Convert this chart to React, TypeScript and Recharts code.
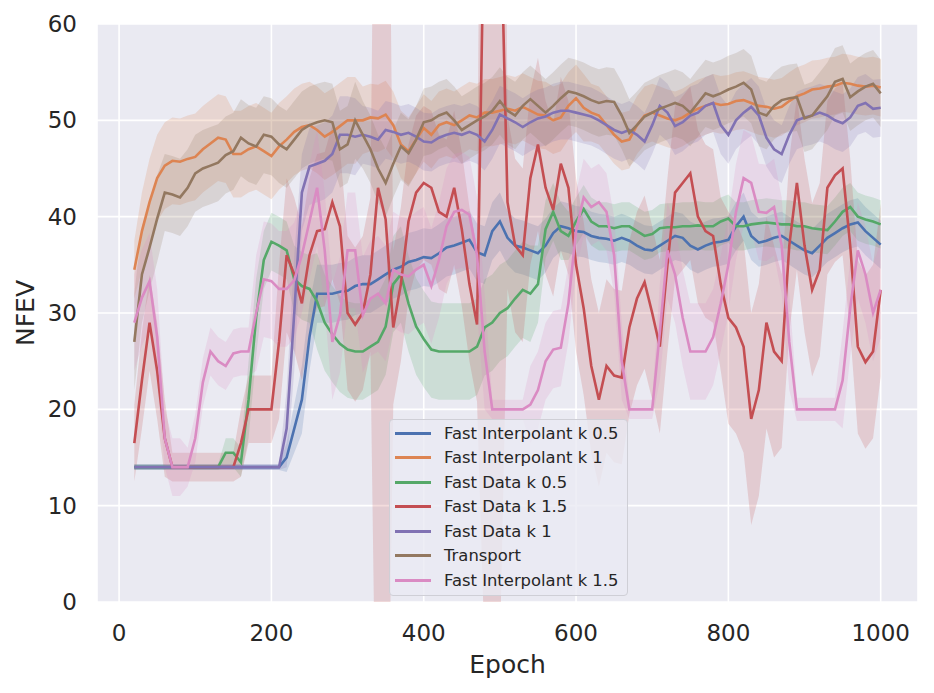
import { Area, CartesianGrid, ComposedChart, Line, XAxis, YAxis } from 'recharts'

// epoch grid, read every 10 epochs
const epochs = [
  20, 30, 40, 50, 60, 70, 80, 90, 100, 110,
  120, 130, 140, 150, 160, 170, 180, 190, 200, 210,
  220, 230, 240, 250, 260, 270, 280, 290, 300, 310,
  320, 330, 340, 350, 360, 370, 380, 390, 400, 410,
  420, 430, 440, 450, 460, 470, 480, 490, 500, 510,
  520, 530, 540, 550, 560, 570, 580, 590, 600, 610,
  620, 630, 640, 650, 660, 670, 680, 690, 700, 710,
  720, 730, 740, 750, 760, 770, 780, 790, 800, 810,
  820, 830, 840, 850, 860, 870, 880, 890, 900, 910,
  920, 930, 940, 950, 960, 970, 980, 990, 1000,
]

const fastInterpK05 = [
  14, 14, 14, 14, 14, 14, 14, 14, 14, 14,
  14, 14, 14, 14, 14, 14, 14, 14, 14, 14,
  15, 18, 21, 27.5, 32, 32, 32, 32.2, 32.3, 32.8,
  33, 33, 33.5, 34, 34.5, 34.8, 35.3, 35.5, 35.8, 35.7,
  36.2, 36.8, 37, 37.3, 37.6, 36.3, 36, 38.5, 39.5, 37.8,
  37, 36.8, 36.5, 36.2, 37, 38.3, 39, 38.8, 38.5, 38.4,
  38, 37.8, 37.7, 37.5, 37.8, 37.5, 37, 36.6, 36.5, 37,
  37.5, 38, 37.8, 37, 36.6, 37, 37.3, 37.4, 37.6, 39,
  40, 38, 37.3, 37.5, 37.8, 38, 37.5, 37, 36.5, 36.2,
  37, 37.8, 38.3, 38.8, 39.2, 39.4, 38.5, 37.8, 37.1,
]
const fastInterpK05Spread = [
  0.3, 0.3, 0.3, 0.3, 0.3, 0.3, 0.3, 0.3, 0.3, 0.3,
  0.3, 0.3, 0.3, 0.3, 0.3, 0.3, 0.3, 0.3, 0.3, 0.3,
  1.5, 2.5, 3.5, 3.5, 3, 3, 3, 3, 3, 3,
  3, 3, 3, 3, 3, 3, 3, 3, 3, 3,
  3, 3, 3, 3, 3, 3, 3, 3, 3, 2.8,
  2.8, 2.8, 2.8, 2.8, 2.8, 2.6, 2.6, 2.6, 2.6, 2.6,
  2.5, 2.5, 2.5, 2.5, 2.5, 2.5, 2.5, 2.5, 2.5, 2.5,
  2.5, 2.5, 2.5, 2.5, 2.5, 2.5, 2.5, 2.5, 2.5, 2.5,
  2.5, 2.5, 2.5, 2.5, 2.5, 2.5, 2.5, 2.5, 2.5, 2.5,
  2.5, 2.5, 2.5, 2.5, 2.5, 2.5, 2.5, 2.5, 2.5,
]

const fastInterpK1 = [
  34.5, 38.5, 41.5, 44, 45.3, 45.8, 45.7, 46, 46.2, 47,
  47.6, 48.2, 48, 46.5, 46.5, 47, 47.3, 46.8, 46.3, 47.3,
  48, 48.8, 49.3, 49.5, 49, 48.3, 48.8, 49.4, 50, 50,
  50, 50.3, 50.2, 50.6, 49.5, 47.5, 46.8, 48, 49.2, 48.5,
  49.5, 49.8, 49.5, 50, 50.5, 50.3, 50.8, 50.8, 51, 51.2,
  51, 51.4, 51, 50.6, 50.5, 50, 50.3, 51.5, 52.3, 51.3,
  50.8, 50.5, 49.5, 48.5, 47.8, 48, 49.5, 50.5, 50.8, 50.5,
  50.2, 50, 50.3, 50.8, 51.2, 51.5, 51.8, 51.6, 51.7, 52,
  52.1, 51.8, 51.5, 51.4, 51.2, 51.4, 52, 52.5, 52.8, 53.2,
  53.3, 53.5, 53.6, 53.9, 53.8, 53.6, 53.5, 53.6, 53.4,
]
const fastInterpK1Spread = [
  3, 4, 4.5, 4.5, 4.5, 4.5, 4.5, 4.5, 4.5, 4.5,
  4.5, 4.5, 4.5, 4.5, 4.5, 4.5, 4.5, 4.5, 4.5, 4.5,
  4.5, 4.5, 4.5, 4.5, 4.5, 4.5, 4.5, 4.5, 4.5, 4.5,
  3.5, 3.5, 3.5, 3.5, 3.5, 3.5, 3.5, 3.5, 3.5, 3.5,
  3.5, 3.5, 3.5, 3.5, 3.5, 3.5, 3.5, 3.5, 3.5, 3.5,
  3.5, 3.5, 3.5, 3.5, 3.5, 3.5, 3.5, 3.5, 3.5, 3.5,
  3, 3, 3, 3, 3, 3, 3, 3, 3, 3,
  3, 3, 3, 3, 3, 3, 3, 3, 3, 3,
  3, 3, 3, 3, 3, 3, 3, 3, 3, 3,
  3, 3, 3, 3, 3, 3, 3, 3, 3,
]

const fastDataK05 = [
  14, 14, 14, 14, 14, 14, 14, 14, 14, 14,
  14, 14, 15.5, 15.5, 14.5, 21, 29.6, 35.5, 37.4, 37,
  36.5, 33.5, 32.8, 32.5, 31.2, 29, 27.8, 26.8, 26.2, 26,
  26, 26.5, 27, 28.6, 33, 34, 31, 28.6, 27.3, 26.2,
  26, 26, 26, 26, 26, 26.5, 28.5, 29, 30, 30.5,
  31.5, 32.4, 32, 33, 38.7, 40.5, 38.5, 38, 39.5, 40.8,
  39.5, 39, 39, 38.8, 39, 39, 38.5, 38, 38.2, 38.8,
  38.9, 38.9, 39, 39, 39.1, 39, 39, 39.5, 39.8, 39,
  39, 39.2, 39.3, 39.4, 39.3, 39.2, 39.2, 39, 39, 38.8,
  38.7, 38.6, 39.5, 40.5, 41, 40, 39.7, 39.5, 39.2,
]
const fastDataK05Spread = [
  0.3, 0.3, 0.3, 0.3, 0.3, 0.3, 0.3, 0.3, 0.3, 0.3,
  0.3, 0.3, 1.5, 1.5, 1.5, 4, 4, 3, 3, 3,
  3, 3.5, 3.5, 3.5, 5, 5, 5, 5, 5, 5,
  5, 5, 5, 5, 5, 5, 5, 5, 5, 5,
  5, 5, 5, 5, 5, 5, 5, 5, 5, 5,
  5, 5, 5, 4, 3, 3, 3, 2.5, 2.5, 2.5,
  2.5, 2.5, 2.5, 2.5, 2.5, 2.5, 2.5, 2.5, 2.5, 2.5,
  2.5, 2.5, 2.5, 2.5, 2.5, 2.5, 2.5, 2.5, 2.5, 2.5,
  2.5, 2.5, 2.5, 2.5, 2.5, 2.5, 2.5, 2.5, 2.5, 2.5,
  2.5, 2.5, 2.5, 2.5, 2.5, 2.5, 2.5, 2.5, 2.5,
]

const fastDataK15 = [
  16.5, 23, 29, 24, 17, 14, 14, 14, 14, 14,
  14, 14, 14, 14, 16.5, 20, 20, 20, 20, 27,
  36, 34, 31, 36, 38.5, 38.7, 41.5, 39, 30, 28.8,
  30, 34, 43, 39.7, 28.5, 33, 39.5, 42.5, 43.5, 43,
  40.5, 40, 43, 38.7, 33, 28.8, 75, 75, 75, 41.5,
  37, 36, 44, 47.5, 43, 40.7, 45.5, 43, 35, 30.5,
  24.5, 21, 24.5, 23.5, 23.3, 28.5, 31.5, 33.2, 30, 26.5,
  35, 42.5, 43.5, 44.5, 40, 38.5, 38, 33, 29.5, 28.5,
  26.5, 19, 22, 29, 26, 25, 37, 43.5, 37, 32.4,
  34.5, 43, 44.3, 45, 37, 26.5, 24.9, 26, 32.4,
]
const fastDataK15Spread = [
  4, 5, 5, 5, 4, 1.5, 1.5, 1.5, 1.5, 1.5,
  1.5, 1.5, 1.5, 1.5, 3.5, 3.5, 3.5, 3.5, 3.5, 8,
  8, 8, 8, 8, 8, 8, 8, 8, 8, 8,
  8, 8, 75, 75, 8, 8, 8, 8, 8, 8,
  8, 8, 8, 8, 8, 8, 80, 80, 80, 9,
  9, 9, 9, 9, 9, 9, 9, 9, 9, 9,
  9, 9, 9, 9, 9, 9, 9, 9, 9, 9,
  9, 9, 9, 9, 9, 9, 9, 9, 11, 11,
  11, 11, 11, 11, 11, 9, 9, 9, 9, 9,
  9, 9, 9, 9, 9, 9, 9, 9, 9,
]

const fastDataK1 = [
  14, 14, 14, 14, 14, 14, 14, 14, 14, 14,
  14, 14, 14, 14, 14, 14, 14, 14, 14, 14,
  18, 30, 42.5, 45.2, 45.5, 45.8, 46.5, 48.5, 48.5, 48.3,
  48.5, 48.3, 48, 49, 48.8, 48.5, 48.7, 48.3, 47.8, 47.7,
  48.2, 48.5, 48.7, 48.5, 48.8, 48.5, 47.8, 49, 50.6, 50.2,
  49.8, 49.3, 49.8, 50.2, 50.4, 50.8, 51, 51, 50.8, 50.6,
  50.4, 50, 49.5, 49, 48.7, 49, 48.5, 47.8, 49.5, 51.5,
  50.8, 49.4, 49.8, 50.5, 50.8, 51.5, 51.8, 49.5, 48.5, 50,
  50.8, 51.4, 50.5, 48.2, 47, 46.5, 48.5, 50, 50.3, 50.5,
  50.8, 50.5, 50, 49.7, 50.3, 51.5, 51.8, 51.2, 51.3,
]
const fastDataK1Spread = [
  0.3, 0.3, 0.3, 0.3, 0.3, 0.3, 0.3, 0.3, 0.3, 0.3,
  0.3, 0.3, 0.3, 0.3, 0.3, 0.3, 0.3, 0.3, 0.3, 0.3,
  4, 6, 4, 4, 4, 4, 4, 4, 4, 4,
  3, 3, 3, 3, 3, 3, 3, 3, 3, 3,
  3, 3, 3, 3, 3, 3, 3, 3, 3, 3,
  3, 3, 3, 3, 3, 3, 3, 3, 3, 3,
  3, 3, 3, 3, 3, 3, 3, 3, 3, 3,
  3, 3, 3, 3, 3, 3, 3, 3, 3, 3,
  3, 3, 3, 3, 3, 3, 3, 3, 3, 3,
  3, 3, 3, 3, 3, 3, 3, 3, 3,
]

const transport = [
  27, 34, 36.8, 39.8, 42.5, 42.3, 42, 43, 44.5, 45,
  45.3, 45.6, 46.4, 46.8, 48.2, 47.6, 47.3, 48.5, 48.3, 47.5,
  47, 48, 49, 49.5, 49.8, 50, 49.8, 47, 47.5, 50,
  48.5, 47, 45, 43.5, 45.5, 47.3, 46.6, 48, 49.8, 50,
  50.5, 50.8, 50, 49, 49.5, 50, 50.4, 51, 52, 51,
  50.5, 51.5, 52.2, 51.5, 50.8, 51.5, 52.3, 53, 52.8, 52.5,
  52.1, 51.8, 52, 51.9, 50.5, 48.7, 49.5, 50.4, 50.8, 51.2,
  51.5, 51.8, 51.5, 50.8, 51.8, 52.8, 52.5, 52.8, 53.2, 53.5,
  53.9, 53.2, 50.8, 50.5, 51.5, 52.1, 52.3, 52.4, 50.2, 50.5,
  51.5, 52.5, 54, 54.3, 52.4, 53, 53.5, 53.8, 52.8,
]
const transportSpread = [
  5, 5, 4.5, 4.5, 4, 4, 4, 4, 4, 4,
  4, 4, 4, 4, 4, 4, 4, 4, 4, 4,
  4, 4, 4, 4, 4, 4, 4, 4, 4, 4,
  3.5, 3.5, 3.5, 3.5, 3.5, 3.5, 3.5, 3.5, 3.5, 3.5,
  3.5, 3.5, 3.5, 3.5, 3.5, 3.5, 3.5, 3.5, 3.5, 3.5,
  3.5, 3.5, 3.5, 3.5, 3.5, 3.5, 3.5, 3.5, 3.5, 3.5,
  3.5, 3.5, 3.5, 3.5, 3.5, 3.5, 3.5, 3.5, 3.5, 3.5,
  3.5, 3.5, 3.5, 3.5, 3.5, 3.5, 3.5, 3.5, 3.5, 3.5,
  3.5, 3.5, 3.5, 3.5, 3.5, 3.5, 3.5, 3.5, 3.5, 3.5,
  3.5, 3.5, 3.5, 3.5, 3.5, 3.5, 3.5, 3.5, 3.5,
]

const fastInterpK15 = [
  29, 31.6, 33.3, 27.5, 17, 14, 14, 14, 17, 22.8,
  26, 25, 24.5, 25.8, 26, 26, 30, 33.5, 33.3, 32.5,
  32.5, 33.4, 36, 39.5, 43, 36.5, 27, 29.8, 36.5, 36.5,
  29.8, 31.5, 32, 31, 34.5, 34, 33.8, 34.5, 35, 32.8,
  35.5, 39, 40.5, 40.7, 40.2, 36, 26, 20, 20, 20,
  20, 20, 20.5, 22, 25, 26.2, 26.4, 31, 38.5, 42,
  41, 41.5, 40.5, 36, 25, 20, 20, 20, 20, 28,
  36.5, 34, 29.5, 26, 26, 26, 27.5, 31, 35, 40.5,
  44, 43.5, 40.5, 40.4, 41, 37, 27, 20, 20, 20,
  20, 20, 20, 23, 30.5, 36.5, 34, 30, 32.4,
]
const fastInterpK15Spread = [
  5, 5, 5, 5, 3, 3, 3, 2, 2.5, 2.5,
  2.5, 2.5, 2.5, 2.5, 2.5, 2.5, 6, 6, 6, 6,
  6, 6, 6, 6, 6, 6, 6, 6, 6, 6,
  6, 6, 6, 6, 6, 6, 6, 6, 6, 6,
  6, 6, 6, 6, 6, 6, 6, 1, 1, 1,
  1, 1, 4, 4, 4, 4, 4, 4, 4, 4,
  4, 4, 4, 4, 4, 1, 1, 1, 1, 5,
  5, 5, 5, 5, 5, 5, 5, 5, 5, 5,
  5, 5, 5, 5, 5, 5, 5, 1.2, 1.2, 1.2,
  1.2, 1.2, 1.2, 5, 5, 5, 5, 5, 5,
]

const xTicks = [0, 200, 400, 600, 800, 1000]
const yTicks = [0, 10, 20, 30, 40, 50, 60]

const series = [
  { key: 'fik05', label: 'Fast Interpolant k 0.5', color: '#4C72B0', values: fastInterpK05, spread: fastInterpK05Spread },
  { key: 'fik1', label: 'Fast Interpolant k 1', color: '#DD8452', values: fastInterpK1, spread: fastInterpK1Spread },
  { key: 'fdk05', label: 'Fast Data k 0.5', color: '#55A868', values: fastDataK05, spread: fastDataK05Spread },
  { key: 'fdk15', label: 'Fast Data k 1.5', color: '#C44E52', values: fastDataK15, spread: fastDataK15Spread },
  { key: 'fdk1', label: 'Fast Data k 1', color: '#8172B3', values: fastDataK1, spread: fastDataK1Spread },
  { key: 'transport', label: 'Transport', color: '#937860', values: transport, spread: transportSpread },
  { key: 'fik15', label: 'Fast Interpolant k 1.5', color: '#DA8BC3', values: fastInterpK15, spread: fastInterpK15Spread },
]

const data = epochs.map((epoch, i) => {
  const row: Record<string, number | number[]> = { epoch }
  series.forEach((s) => {
    row[s.key] = s.values[i]
    row[s.key + 'Band'] = [s.values[i] - s.spread[i], s.values[i] + s.spread[i]]
  })
  return row
})

const font = 'DejaVu Sans'
const textColor = '#262626'

export default function App() {
  return (
    <div style={{ position: 'absolute', left: 0, top: 0, width: 934, height: 693, background: '#fff', fontFamily: font }}>
      <ComposedChart width={934} height={693} data={data} margin={{ top: 24, right: 16, bottom: 0, left: 0 }}>
        <CartesianGrid fill="#EAEAF2" stroke="#ffffff" strokeWidth={1.6} />
        <XAxis
          type="number"
          dataKey="epoch"
          domain={[-29, 1049]}
          ticks={xTicks}
          allowDataOverflow
          axisLine={false}
          tickLine={false}
          tickSize={0}
          tickMargin={23}
          height={91}
          tick={{ fill: textColor, fontSize: 23, fontFamily: font }}
          label={{
            value: 'Epoch',
            content: (props: any) => {
              const vb = props.viewBox
              return (
                <text x={vb.x + vb.width / 2} y={vb.y + vb.height - 20} textAnchor="middle" fill={textColor} fontSize={25} fontFamily={font}>
                  Epoch
                </text>
              )
            },
          }}
        />
        <YAxis
          type="number"
          domain={[0, 60]}
          ticks={yTicks}
          allowDataOverflow
          axisLine={false}
          tickLine={false}
          tickSize={0}
          tickMargin={20}
          width={97}
          tick={{ fill: textColor, fontSize: 23, fontFamily: font }}
          label={{
            value: 'NFEV',
            content: (props: any) => {
              const vb = props.viewBox
              const cy = vb.y + vb.height / 2
              return (
                <text x={34} y={cy} transform={`rotate(-90 34 ${cy})`} textAnchor="middle" fill={textColor} fontSize={25} fontFamily={font}>
                  NFEV
                </text>
              )
            },
          }}
        />
        {series.flatMap((s) => [
          <Area
            key={s.key + 'Band'}
            type="linear"
            dataKey={s.key + 'Band'}
            stroke="none"
            fill={s.color}
            fillOpacity={0.2}
            dot={false}
            activeDot={false}
            isAnimationActive={false}
          />,
          <Line
            key={s.key}
            type="linear"
            dataKey={s.key}
            stroke={s.color}
            strokeWidth={2.6}
            dot={false}
            activeDot={false}
            isAnimationActive={false}
          />,
        ])}
      </ComposedChart>

      <div
        style={{
          position: 'absolute',
          left: 389,
          top: 419,
          width: 237,
          padding: '1px 0 2px 0',
          background: 'rgba(234,234,242,0.8)',
          border: '1px solid #cfcfd6',
          borderRadius: 4,
          fontSize: 16.4,
          color: textColor,
        }}
      >
        {series.map((s) => (
          <div key={s.key} style={{ display: 'flex', alignItems: 'center', height: 24.5 }}>
            <span style={{ display: 'inline-block', width: 36, height: 2.6, background: s.color, marginLeft: 5, marginRight: 13 }} />
            <span style={{ whiteSpace: 'nowrap' }}>{s.label}</span>
          </div>
        ))}
      </div>
    </div>
  )
}
